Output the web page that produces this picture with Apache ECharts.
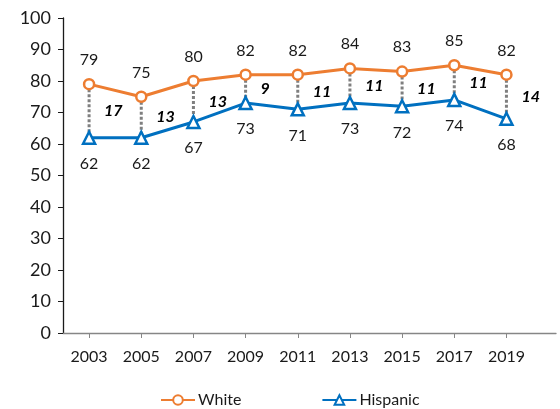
<!DOCTYPE html>
<html>
<head>
<meta charset="utf-8">
<script src="https://cdn.jsdelivr.net/npm/echarts@6/dist/echarts.min.js"></script>
<style>
  html, body { margin: 0; padding: 0; background: #fff; }
  #chart { width: 560px; height: 409px; }
</style>
</head>
<body>
<div id="chart"></div>
<script>
// Survey years and scores for the two groups
const years = [2003, 2005, 2007, 2009, 2011, 2013, 2015, 2017, 2019];
const white = [79, 75, 80, 82, 82, 84, 83, 85, 82];
const hispanic = [62, 62, 67, 73, 71, 73, 72, 74, 68];
const gaps = [17, 13, 13, 9, 11, 11, 11, 11, 14];
const yTicks = [0, 10, 20, 30, 40, 50, 60, 70, 80, 90, 100];

const FONT = 'Lato, "Open Sans", sans-serif';
const ORANGE = '#ED7D31';
const BLUE = '#0070C0';

const chart = echarts.init(document.getElementById('chart'));

const gapData = years.map((y, i) => [y, white[i], hispanic[i], gaps[i]]);

chart.setOption({
  animation: false,
  grid: { left: 63, right: 4, top: 18, bottom: 76 },
  xAxis: {
    type: 'value',
    min: 2002,
    max: 2020.9,
    splitLine: { show: false },
    axisLine: { show: true, lineStyle: { color: '#868686', width: 1.3 } },
    axisTick: { show: true, length: 5, inside: false, customValues: years, lineStyle: { color: '#868686' } },
    axisLabel: { customValues: years, margin: 16, color: '#1a1a1a', fontSize: 16, fontFamily: FONT, formatter: v => String(v) }
  },
  yAxis: {
    type: 'value',
    min: yTicks[0],
    max: yTicks[yTicks.length - 1],
    interval: 10,
    splitLine: { show: false },
    axisLine: { show: true, lineStyle: { color: '#1a1a1a', width: 1.3 } },
    axisTick: { show: true, length: 5, lineStyle: { color: '#1a1a1a' } },
    axisLabel: { margin: 12, color: '#1a1a1a', fontSize: 18, fontFamily: FONT }
  },
  legend: {
    bottom: -4,
    left: 155,
    itemGap: 80,
    itemWidth: 34,
    itemHeight: 12,
    textStyle: { color: '#1a1a1a', fontSize: 16, fontFamily: FONT, padding: [0, 0, 0, -2] },
    data: ['White', 'Hispanic']
  },
  series: [
    {
      // dotted connectors and gap values between the two lines
      type: 'custom',
      z: 1,
      silent: true,
      data: gapData,
      renderItem: function (params, api) {
        const top = api.coord([api.value(0), api.value(1)]);
        const bot = api.coord([api.value(0), api.value(2)]);
        return {
          type: 'group',
          children: [
            {
              type: 'line',
              shape: { x1: top[0], y1: top[1], x2: bot[0], y2: bot[1] },
              style: { stroke: '#7f7f7f', lineWidth: 3, lineDash: [3, 2] }
            },
            {
              type: 'text',
              style: {
                text: String(api.value(3)),
                x: top[0] + 15,
                y: (top[1] + bot[1]) / 2,
                verticalAlign: 'middle',
                align: 'left',
                fill: '#000',
                font: 'italic bold 16px ' + FONT
              }
            }
          ]
        };
      }
    },
    {
      name: 'White',
      type: 'line',
      z: 3,
      data: years.map((y, i) => [y, white[i]]),
      symbol: 'circle',
      symbolSize: 10,
      lineStyle: { color: ORANGE, width: 3 },
      itemStyle: { color: '#fff', borderColor: ORANGE, borderWidth: 2.5 },
      label: { show: true, position: 'top', distance: 10, color: '#1a1a1a', fontSize: 16, fontFamily: FONT, formatter: p => p.value[1] }
    },
    {
      name: 'Hispanic',
      type: 'line',
      z: 3,
      data: years.map((y, i) => [y, hispanic[i]]),
      symbol: 'triangle',
      symbolSize: 12,
      lineStyle: { color: BLUE, width: 3 },
      itemStyle: { color: '#fff', borderColor: BLUE, borderWidth: 2.5 },
      label: { show: true, position: 'bottom', distance: 11, color: '#1a1a1a', fontSize: 16, fontFamily: FONT, formatter: p => p.value[1] }
    }
  ]
});
</script>
</body>
</html>
